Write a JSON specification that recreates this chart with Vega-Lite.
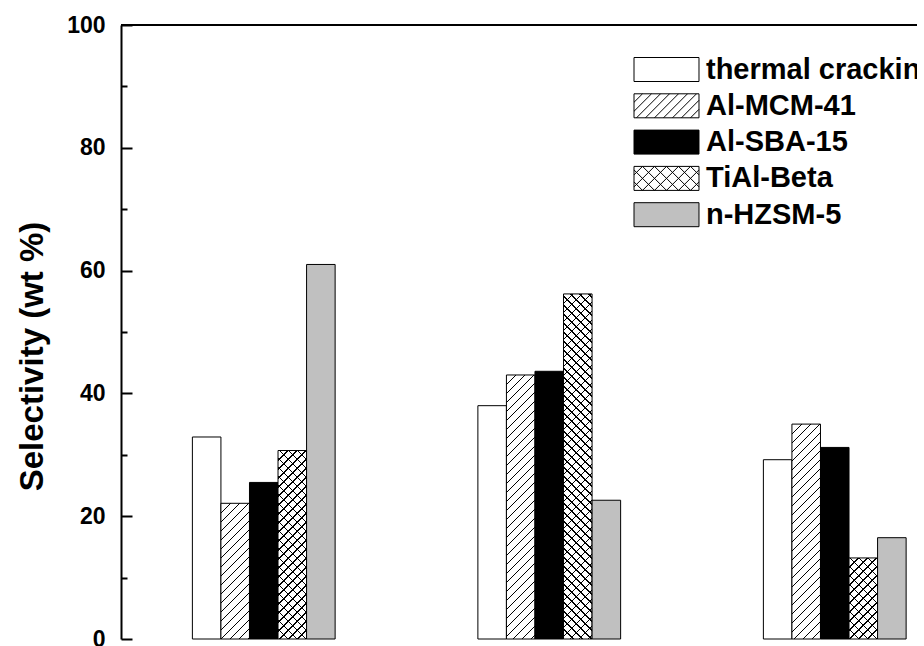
{
  "$schema": "https://vega.github.io/schema/vega-lite/v6.json",
  "width": 796,
  "height": 614,
  "autosize": "none",
  "padding": {"left": 121, "top": 25, "right": 0, "bottom": 7},
  "background": "white",
  "config": {
    "view": {"stroke": null},
    "font": "Liberation Sans",
    "axis": {"labelFont": "Liberation Sans", "titleFont": "Liberation Sans", "labelFontWeight": "bold", "titleFontWeight": "bold", "labelColor": "black", "titleColor": "black", "domainColor": "black", "tickColor": "black", "grid": false}
  },
  "params": [
    {"name": "hatch", "value": [
      {"offset":0,"color":"#0000"},
      {"offset":0.02273,"color":"#0000"},{"offset":0.02273,"color":"#000"},{"offset":0.02653,"color":"#000"},{"offset":0.02653,"color":"#0000"},
      {"offset":0.04545,"color":"#0000"},{"offset":0.04545,"color":"#000"},{"offset":0.04925,"color":"#000"},{"offset":0.04925,"color":"#0000"},
      {"offset":0.06818,"color":"#0000"},{"offset":0.06818,"color":"#000"},{"offset":0.07198,"color":"#000"},{"offset":0.07198,"color":"#0000"},
      {"offset":0.09091,"color":"#0000"},{"offset":0.09091,"color":"#000"},{"offset":0.09471,"color":"#000"},{"offset":0.09471,"color":"#0000"},
      {"offset":0.11364,"color":"#0000"},{"offset":0.11364,"color":"#000"},{"offset":0.11744,"color":"#000"},{"offset":0.11744,"color":"#0000"},
      {"offset":0.13636,"color":"#0000"},{"offset":0.13636,"color":"#000"},{"offset":0.14016,"color":"#000"},{"offset":0.14016,"color":"#0000"},
      {"offset":0.15909,"color":"#0000"},{"offset":0.15909,"color":"#000"},{"offset":0.16289,"color":"#000"},{"offset":0.16289,"color":"#0000"},
      {"offset":0.18182,"color":"#0000"},{"offset":0.18182,"color":"#000"},{"offset":0.18562,"color":"#000"},{"offset":0.18562,"color":"#0000"},
      {"offset":0.20455,"color":"#0000"},{"offset":0.20455,"color":"#000"},{"offset":0.20835,"color":"#000"},{"offset":0.20835,"color":"#0000"},
      {"offset":0.22727,"color":"#0000"},{"offset":0.22727,"color":"#000"},{"offset":0.23107,"color":"#000"},{"offset":0.23107,"color":"#0000"},
      {"offset":0.25,"color":"#0000"},{"offset":0.25,"color":"#000"},{"offset":0.2538,"color":"#000"},{"offset":0.2538,"color":"#0000"},
      {"offset":0.27273,"color":"#0000"},{"offset":0.27273,"color":"#000"},{"offset":0.27653,"color":"#000"},{"offset":0.27653,"color":"#0000"},
      {"offset":0.29545,"color":"#0000"},{"offset":0.29545,"color":"#000"},{"offset":0.29925,"color":"#000"},{"offset":0.29925,"color":"#0000"},
      {"offset":0.31818,"color":"#0000"},{"offset":0.31818,"color":"#000"},{"offset":0.32198,"color":"#000"},{"offset":0.32198,"color":"#0000"},
      {"offset":0.34091,"color":"#0000"},{"offset":0.34091,"color":"#000"},{"offset":0.34471,"color":"#000"},{"offset":0.34471,"color":"#0000"},
      {"offset":0.36364,"color":"#0000"},{"offset":0.36364,"color":"#000"},{"offset":0.36744,"color":"#000"},{"offset":0.36744,"color":"#0000"},
      {"offset":0.38636,"color":"#0000"},{"offset":0.38636,"color":"#000"},{"offset":0.39016,"color":"#000"},{"offset":0.39016,"color":"#0000"},
      {"offset":0.40909,"color":"#0000"},{"offset":0.40909,"color":"#000"},{"offset":0.41289,"color":"#000"},{"offset":0.41289,"color":"#0000"},
      {"offset":0.43182,"color":"#0000"},{"offset":0.43182,"color":"#000"},{"offset":0.43562,"color":"#000"},{"offset":0.43562,"color":"#0000"},
      {"offset":0.45455,"color":"#0000"},{"offset":0.45455,"color":"#000"},{"offset":0.45835,"color":"#000"},{"offset":0.45835,"color":"#0000"},
      {"offset":0.47727,"color":"#0000"},{"offset":0.47727,"color":"#000"},{"offset":0.48107,"color":"#000"},{"offset":0.48107,"color":"#0000"},
      {"offset":0.5,"color":"#0000"},{"offset":0.5,"color":"#000"},{"offset":0.5038,"color":"#000"},{"offset":0.5038,"color":"#0000"},
      {"offset":0.52273,"color":"#0000"},{"offset":0.52273,"color":"#000"},{"offset":0.52653,"color":"#000"},{"offset":0.52653,"color":"#0000"},
      {"offset":0.54545,"color":"#0000"},{"offset":0.54545,"color":"#000"},{"offset":0.54925,"color":"#000"},{"offset":0.54925,"color":"#0000"},
      {"offset":0.56818,"color":"#0000"},{"offset":0.56818,"color":"#000"},{"offset":0.57198,"color":"#000"},{"offset":0.57198,"color":"#0000"},
      {"offset":0.59091,"color":"#0000"},{"offset":0.59091,"color":"#000"},{"offset":0.59471,"color":"#000"},{"offset":0.59471,"color":"#0000"},
      {"offset":0.61364,"color":"#0000"},{"offset":0.61364,"color":"#000"},{"offset":0.61744,"color":"#000"},{"offset":0.61744,"color":"#0000"},
      {"offset":0.63636,"color":"#0000"},{"offset":0.63636,"color":"#000"},{"offset":0.64016,"color":"#000"},{"offset":0.64016,"color":"#0000"},
      {"offset":0.65909,"color":"#0000"},{"offset":0.65909,"color":"#000"},{"offset":0.66289,"color":"#000"},{"offset":0.66289,"color":"#0000"},
      {"offset":0.68182,"color":"#0000"},{"offset":0.68182,"color":"#000"},{"offset":0.68562,"color":"#000"},{"offset":0.68562,"color":"#0000"},
      {"offset":0.70455,"color":"#0000"},{"offset":0.70455,"color":"#000"},{"offset":0.70835,"color":"#000"},{"offset":0.70835,"color":"#0000"},
      {"offset":0.72727,"color":"#0000"},{"offset":0.72727,"color":"#000"},{"offset":0.73107,"color":"#000"},{"offset":0.73107,"color":"#0000"},
      {"offset":0.75,"color":"#0000"},{"offset":0.75,"color":"#000"},{"offset":0.7538,"color":"#000"},{"offset":0.7538,"color":"#0000"},
      {"offset":0.77273,"color":"#0000"},{"offset":0.77273,"color":"#000"},{"offset":0.77653,"color":"#000"},{"offset":0.77653,"color":"#0000"},
      {"offset":0.79545,"color":"#0000"},{"offset":0.79545,"color":"#000"},{"offset":0.79925,"color":"#000"},{"offset":0.79925,"color":"#0000"},
      {"offset":0.81818,"color":"#0000"},{"offset":0.81818,"color":"#000"},{"offset":0.82198,"color":"#000"},{"offset":0.82198,"color":"#0000"},
      {"offset":0.84091,"color":"#0000"},{"offset":0.84091,"color":"#000"},{"offset":0.84471,"color":"#000"},{"offset":0.84471,"color":"#0000"},
      {"offset":0.86364,"color":"#0000"},{"offset":0.86364,"color":"#000"},{"offset":0.86744,"color":"#000"},{"offset":0.86744,"color":"#0000"},
      {"offset":0.88636,"color":"#0000"},{"offset":0.88636,"color":"#000"},{"offset":0.89016,"color":"#000"},{"offset":0.89016,"color":"#0000"},
      {"offset":0.90909,"color":"#0000"},{"offset":0.90909,"color":"#000"},{"offset":0.91289,"color":"#000"},{"offset":0.91289,"color":"#0000"},
      {"offset":0.93182,"color":"#0000"},{"offset":0.93182,"color":"#000"},{"offset":0.93562,"color":"#000"},{"offset":0.93562,"color":"#0000"},
      {"offset":0.95455,"color":"#0000"},{"offset":0.95455,"color":"#000"},{"offset":0.95835,"color":"#000"},{"offset":0.95835,"color":"#0000"},
      {"offset":0.97727,"color":"#0000"},{"offset":0.97727,"color":"#000"},{"offset":0.98107,"color":"#000"},{"offset":0.98107,"color":"#0000"},
      {"offset":1,"color":"#0000"}
    ]}
  ],
  "data": {"values": [
    {"fraction": "Gas", "catalyst": "thermal cracking", "selectivity": 32.9},
    {"fraction": "Gas", "catalyst": "Al-MCM-41", "selectivity": 22.1},
    {"fraction": "Gas", "catalyst": "Al-SBA-15", "selectivity": 25.5},
    {"fraction": "Gas", "catalyst": "TiAl-Beta", "selectivity": 30.7},
    {"fraction": "Gas", "catalyst": "n-HZSM-5", "selectivity": 61.0},
    {"fraction": "Gasoline", "catalyst": "thermal cracking", "selectivity": 38.0},
    {"fraction": "Gasoline", "catalyst": "Al-MCM-41", "selectivity": 43.0},
    {"fraction": "Gasoline", "catalyst": "Al-SBA-15", "selectivity": 43.6},
    {"fraction": "Gasoline", "catalyst": "TiAl-Beta", "selectivity": 56.2},
    {"fraction": "Gasoline", "catalyst": "n-HZSM-5", "selectivity": 22.6},
    {"fraction": "Diesel", "catalyst": "thermal cracking", "selectivity": 29.2},
    {"fraction": "Diesel", "catalyst": "Al-MCM-41", "selectivity": 35.0},
    {"fraction": "Diesel", "catalyst": "Al-SBA-15", "selectivity": 31.2},
    {"fraction": "Diesel", "catalyst": "TiAl-Beta", "selectivity": 13.2},
    {"fraction": "Diesel", "catalyst": "n-HZSM-5", "selectivity": 16.5}
  ]},
  "layer": [
    {
      "mark": {"type": "bar", "stroke": "black", "strokeWidth": 1},
      "encoding": {
        "x": {"field": "fraction", "type": "nominal",
          "scale": {"domain": ["Gas", "Gasoline", "Diesel"], "range": [0, 856.5], "paddingInner": 0.5, "paddingOuter": 0.25},
          "axis": {"title": null, "orient": "bottom", "domainWidth": 2, "tickSize": 4, "tickWidth": 1, "labelFontSize": 23, "labelAngle": 0}},
        "xOffset": {"field": "catalyst", "type": "nominal",
          "scale": {"domain": ["thermal cracking", "Al-MCM-41", "Al-SBA-15", "TiAl-Beta", "n-HZSM-5"], "paddingInner": 0, "paddingOuter": 0}},
        "y": {"field": "selectivity", "type": "quantitative",
          "scale": {"domain": [0, 100], "nice": false},
          "axis": {"orient": "left", "values": [0, 20, 40, 60, 80, 100], "format": "d", "tickSize": -11, "tickWidth": 2, "domainWidth": 2, "labelFontSize": 23, "labelPadding": 27, "title": "Selectivity (wt %)", "titleFontSize": 33, "titlePadding": 17, "titleY": 331}},
        "fill": {"field": "catalyst", "type": "nominal",
          "scale": {"domain": ["thermal cracking", "Al-MCM-41", "Al-SBA-15", "TiAl-Beta", "n-HZSM-5"], "range": ["white", "white", "black", "white", "#c0c0c0"]},
          "legend": {"orient": "none", "legendX": 531, "legendY": 30, "title": null, "padding": 0,
            "labelFont": "Liberation Sans", "labelFontWeight": "bold", "labelFontSize": 29, "labelColor": "black", "labelLimit": 0,
            "symbolSize": 576, "labelOffset": 25, "rowPadding": 6.3, "symbolOpacity": 1, "symbolStrokeColor": "black", "symbolStrokeWidth": 1,
            "encode": {"symbols": {"update": {
              "shape": {"signal": "datum.value === 'Al-MCM-41' ? 'M-2.708,-1H2.708V1H-2.708ZM-2,-1L-2.708,-0.292M-1.25,-1L-2.708,0.458M-0.5,-1L-2.5,1M0.25,-1L-1.75,1M1,-1L-1,1M1.75,-1L-0.25,1M2.5,-1L0.5,1M2.708,-0.458L1.25,1M2.708,0.292L2,1' : (datum.value === 'TiAl-Beta' ? 'M-2.708,-1H2.708V1H-2.708ZM-2,-1L-2.708,-0.292M-1,-1L-2.708,0.708M0,-1L-2,1M1,-1L-1,1M2,-1L0,1M2.708,-0.708L1,1M2.708,0.292L2,1M2,-1L2.708,-0.292M1,-1L2.708,0.708M0,-1L2,1M-1,-1L1,1M-2,-1L0,1M-2.708,-0.708L-1,1M-2.708,0.292L-2,1' : 'M-2.708,-1H2.708V1H-2.708Z')"},
              "stroke": {"value": "black"},
              "strokeWidth": {"value": 1},
              "opacity": {"value": 1}
            }}}
          }}
      }
    },
    {
      "transform": [{"filter": "datum.catalyst === 'Al-MCM-41' || datum.catalyst === 'TiAl-Beta'"}],
      "mark": {"type": "bar", "strokeWidth": 0,
        "fill": {"expr": "{gradient: 'linear', x1: 0, y1: 0, x2: 396 * 28.55 / (28.55 * 28.55 + pow(datum.selectivity * 6.14, 2)), y2: 396 * datum.selectivity * 6.14 / (28.55 * 28.55 + pow(datum.selectivity * 6.14, 2)), stops: hatch}"}},
      "encoding": {
        "x": {"field": "fraction", "type": "nominal", "scale": {"domain": ["Gas", "Gasoline", "Diesel"]}, "axis": null},
        "xOffset": {"field": "catalyst", "type": "nominal", "scale": {"domain": ["thermal cracking", "Al-MCM-41", "Al-SBA-15", "TiAl-Beta", "n-HZSM-5"]}},
        "y": {"field": "selectivity", "type": "quantitative", "scale": {"domain": [0, 100]},
          "axis": {"orient": "left", "values": [10, 30, 50, 70, 90], "tickSize": -6, "tickWidth": 2, "labels": false, "domain": false, "title": null}}
      }
    },
    {
      "transform": [{"filter": "datum.catalyst === 'TiAl-Beta'"}],
      "mark": {"type": "bar", "strokeWidth": 0,
        "fill": {"expr": "{gradient: 'linear', x1: 0, y1: 1, x2: 396 * 28.55 / (28.55 * 28.55 + pow(datum.selectivity * 6.14, 2)), y2: 1 - 396 * datum.selectivity * 6.14 / (28.55 * 28.55 + pow(datum.selectivity * 6.14, 2)), stops: hatch}"}},
      "encoding": {
        "x": {"field": "fraction", "type": "nominal", "scale": {"domain": ["Gas", "Gasoline", "Diesel"]}, "axis": null},
        "xOffset": {"field": "catalyst", "type": "nominal", "scale": {"domain": ["thermal cracking", "Al-MCM-41", "Al-SBA-15", "TiAl-Beta", "n-HZSM-5"]}},
        "y": {"field": "selectivity", "type": "quantitative", "scale": {"domain": [0, 100]}, "axis": null}
      }
    },
    {
      "mark": {"type": "rule", "strokeWidth": 2, "color": "black"},
      "encoding": {"y": {"datum": 100, "type": "quantitative", "axis": null}}
    }
  ],
  "resolve": {"axis": {"y": "independent"}}
}
